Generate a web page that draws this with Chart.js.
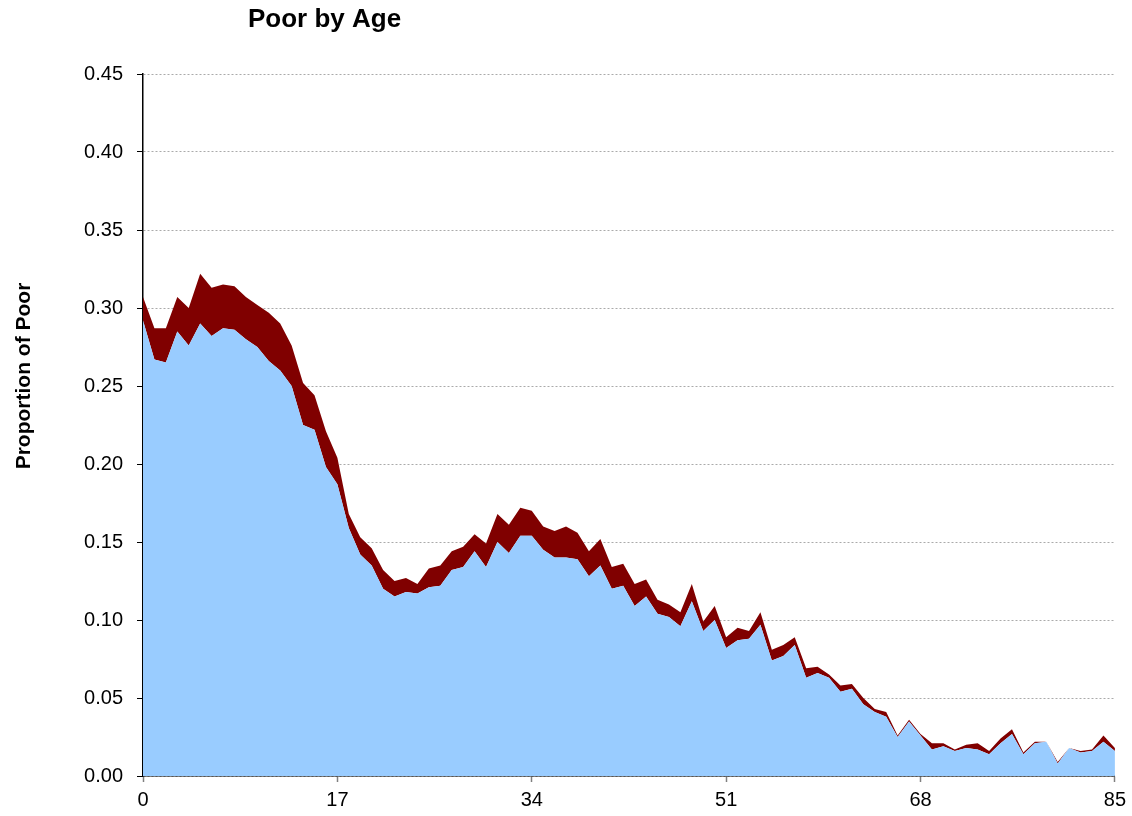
<!DOCTYPE html>
<html>
<head>
<meta charset="utf-8">
<title>Poor by Age</title>
<script src="https://cdn.jsdelivr.net/npm/chart.js@4.4.1/dist/chart.umd.min.js"></script>
<style>
    html, body { margin: 0; padding: 0; background: #fff; }
    #wrap { width: 1132px; height: 816px; }
</style>
</head>
<body>
<div id="wrap">
    <canvas id="poorChart" width="1132" height="816"></canvas>
</div>
<script>
// Edades (eje x)
const ages = [];
for (let a = 0; a <= 85; a++) ages.push(a);

// Etiquetas del eje x
const xTicks = [0, 17, 34, 51, 68, 85];

// Parte azul (línea inferior)
const poorLower = [
    0.292, 0.267, 0.265, 0.285, 0.276, 0.290, 0.282, 0.287, 0.286, 0.280,
    0.275, 0.266, 0.260, 0.250, 0.225, 0.222, 0.198, 0.187, 0.159, 0.142,
    0.135, 0.120, 0.115, 0.118, 0.117, 0.121, 0.122, 0.132, 0.134, 0.144,
    0.134, 0.150, 0.143, 0.154, 0.154, 0.145, 0.140, 0.140, 0.139, 0.128,
    0.135, 0.120, 0.122, 0.109, 0.115, 0.104, 0.102, 0.096, 0.112, 0.093,
    0.100, 0.082, 0.087, 0.088, 0.097, 0.074, 0.077, 0.084, 0.063, 0.066,
    0.063, 0.054, 0.056, 0.046, 0.041, 0.038, 0.025, 0.035, 0.026, 0.017,
    0.019, 0.016, 0.018, 0.017, 0.014, 0.021, 0.027, 0.014, 0.021, 0.022,
    0.008, 0.018, 0.015, 0.016, 0.022, 0.016
];

// Parte roja (línea superior)
const poorUpper = [
    0.307, 0.287, 0.287, 0.307, 0.300, 0.322, 0.313, 0.315, 0.314, 0.307,
    0.302, 0.297, 0.290, 0.276, 0.252, 0.244, 0.221, 0.204, 0.168, 0.153,
    0.146, 0.132, 0.125, 0.127, 0.123, 0.133, 0.135, 0.144, 0.147, 0.155,
    0.149, 0.168, 0.161, 0.172, 0.170, 0.160, 0.157, 0.160, 0.156, 0.144,
    0.152, 0.134, 0.136, 0.123, 0.126, 0.113, 0.110, 0.105, 0.123, 0.099,
    0.109, 0.089, 0.095, 0.093, 0.105, 0.081, 0.084, 0.089, 0.069, 0.070,
    0.065, 0.058, 0.059, 0.050, 0.043, 0.041, 0.026, 0.036, 0.027, 0.021,
    0.021, 0.017, 0.020, 0.021, 0.016, 0.024, 0.030, 0.015, 0.022, 0.022,
    0.009, 0.018, 0.016, 0.017, 0.026, 0.018
];

// Etiquetas del eje y
const yTicks = [0.00, 0.05, 0.10, 0.15, 0.20, 0.25, 0.30, 0.35, 0.40, 0.45];

const FONT = "'Liberation Sans', Arial, sans-serif";

// Título y rótulo del eje y
const textosPlugin = {
    id: 'textos',
    afterDraw(chart) {
        const c = chart.ctx;
        c.save();
        c.fillStyle = '#000';
        c.font = 'bold 26px ' + FONT;
        c.textAlign = 'left';
        c.textBaseline = 'alphabetic';
        c.fillText('Poor by Age', 248, 27);

        c.translate(24, 376);
        c.rotate(-Math.PI / 2);
        c.font = 'bold 21px ' + FONT;
        c.textAlign = 'center';
        c.textBaseline = 'middle';
        c.fillText('Proportion of Poor', 0, 0);
        c.restore();
    }
};

document.addEventListener('DOMContentLoaded', function() {
    const ctx = document.getElementById('poorChart');

    new Chart(ctx, {
        type: 'line',
        data: {
            datasets: [{
                label: 'Poor (lower)',
                data: ages.map((a, i) => ({ x: a, y: poorLower[i] })),
                backgroundColor: '#99ccff',
                borderWidth: 0,
                pointRadius: 0,
                tension: 0,
                fill: 'origin'
            }, {
                label: 'Poor (upper)',
                data: ages.map((a, i) => ({ x: a, y: poorUpper[i] })),
                backgroundColor: '#800000',
                borderWidth: 0,
                pointRadius: 0,
                tension: 0,
                fill: '-1'
            }]
        },
        options: {
            responsive: false,
            animation: false,
            layout: { padding: { top: 74, right: 15, left: 0, bottom: 0 } },
            scales: {
                x: {
                    type: 'linear',
                    min: 0,
                    max: 85,
                    afterBuildTicks: function(scale) {
                        scale.ticks = xTicks.map(v => ({ value: v }));
                    },
                    afterFit: function(scale) { scale.height = 40; },
                    grid: {
                        drawOnChartArea: false,
                        tickLength: 6,
                        tickColor: '#808080',
                        tickWidth: 1.5
                    },
                    border: { color: '#000', width: 1.5 },
                    ticks: {
                        padding: 6,
                        color: '#000',
                        font: { family: FONT, size: 20 },
                        maxRotation: 0
                    }
                },
                y: {
                    min: 0,
                    max: 0.45,
                    afterBuildTicks: function(scale) {
                        scale.ticks = yTicks.map(v => ({ value: v }));
                    },
                    afterFit: function(scale) { scale.width = 143; },
                    grid: {
                        color: '#aaaaaa',
                        lineWidth: 1,
                        tickLength: 6,
                        tickColor: '#000'
                    },
                    border: { color: '#000', width: 1.5, dash: [2, 2] },
                    ticks: {
                        padding: 14,
                        color: '#000',
                        font: { family: FONT, size: 20 },
                        callback: function(value) {
                            return value.toFixed(2);
                        }
                    }
                }
            },
            plugins: {
                legend: { display: false },
                tooltip: { enabled: false }
            }
        },
        plugins: [textosPlugin]
    });
});
</script>
</body>
</html>
